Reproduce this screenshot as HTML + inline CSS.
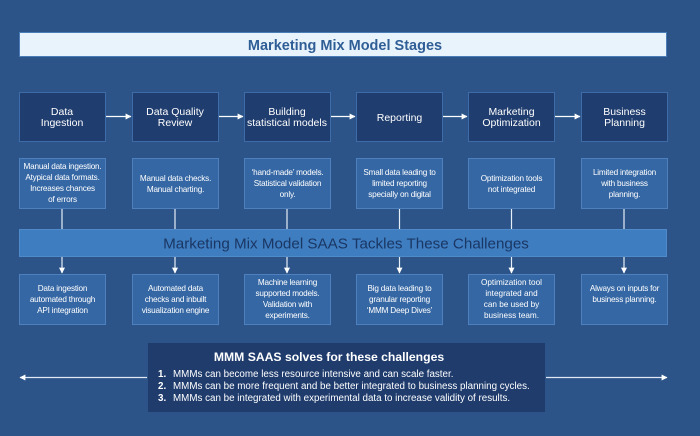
<!DOCTYPE html>
<html><head><meta charset="utf-8"><style>
html,body{margin:0;padding:0;background:#2c5488;}
svg{display:block;}
text{font-family:"Liberation Sans",sans-serif;}
</style></head><body>
<svg width="700" height="436" viewBox="0 0 700 436" xmlns="http://www.w3.org/2000/svg">
<defs>
<marker id="ah" viewBox="0 0 10 10" refX="9" refY="5" markerWidth="5" markerHeight="5" orient="auto"><path d="M0,0 L10,5 L0,10 z" fill="#ffffff"/></marker>
</defs>
<rect width="700" height="436" fill="#2c5488"/>
<!-- title bar -->
<rect x="19.5" y="32.5" width="647" height="24" fill="#e9f3fb" stroke="#4a7cb8" stroke-width="1"/>
<text x="345" y="50" text-anchor="middle" font-size="14.5" font-weight="bold" fill="#2f5e96">Marketing Mix Model Stages</text>

<!-- stage boxes -->
<g fill="#1f3d6e" stroke="#3d6ca8" stroke-width="1">
<rect x="19.5" y="92.5" width="86" height="49"/>
<rect x="132.5" y="92.5" width="86" height="49"/>
<rect x="244.5" y="92.5" width="86" height="49"/>
<rect x="356.5" y="92.5" width="86" height="49"/>
<rect x="468.5" y="92.5" width="86" height="49"/>
<rect x="581.5" y="92.5" width="86" height="49"/>
</g>
<g font-size="10.5" fill="#ffffff" text-anchor="middle">
<text x="62" y="115">Data</text><text x="62" y="126">Ingestion</text>
<text x="175" y="115">Data Quality</text><text x="175" y="126">Review</text>
<text x="287" y="115">Building</text><text x="287" y="126">statistical  models</text>
<text x="399.5" y="121">Reporting</text>
<text x="511.5" y="115">Marketing</text><text x="511.5" y="126">Optimization</text>
<text x="624.5" y="115">Business</text><text x="624.5" y="126">Planning</text>
</g>
<!-- horizontal arrows between stages -->
<g stroke="#ffffff" stroke-width="1.2" marker-end="url(#ah)">
<line x1="106" y1="116.5" x2="131" y2="116.5"/>
<line x1="219" y1="116.5" x2="243" y2="116.5"/>
<line x1="331" y1="116.5" x2="355" y2="116.5"/>
<line x1="443" y1="116.5" x2="467" y2="116.5"/>
<line x1="555" y1="116.5" x2="580" y2="116.5"/>
</g>

<!-- challenge boxes -->
<g fill="#3567a4" stroke="#4d80bd" stroke-width="1">
<rect x="19.5" y="158.5" width="86" height="50"/>
<rect x="132.5" y="158.5" width="86" height="50"/>
<rect x="244.5" y="158.5" width="86" height="50"/>
<rect x="356.5" y="158.5" width="86" height="50"/>
<rect x="468.5" y="158.5" width="86" height="50"/>
<rect x="581.5" y="158.5" width="86" height="50"/>
</g>
<g font-size="8.2" fill="#ffffff" text-anchor="middle" letter-spacing="-0.2">
<text x="62.5" y="169">Manual data ingestion.</text>
<text x="62.5" y="180">Atypical data formats.</text>
<text x="62.5" y="191">Increases chances</text>
<text x="62.5" y="202">of errors</text>
<text x="175.5" y="181">Manual data checks.</text>
<text x="175.5" y="192">Manual charting.</text>
<text x="287.5" y="175">‘hand-made’ models.</text>
<text x="287.5" y="186">Statistical validation</text>
<text x="287.5" y="197">only.</text>
<text x="399.5" y="175">Small data leading to</text>
<text x="399.5" y="186">limited reporting</text>
<text x="399.5" y="197">specially on digital</text>
<text x="511.5" y="181">Optimization tools</text>
<text x="511.5" y="192">not integrated</text>
<text x="624.5" y="175">Limited integration</text>
<text x="624.5" y="186">with business</text>
<text x="624.5" y="197">planning.</text>
</g>
<!-- vertical lines challenge -> banner -->
<g stroke="#e6eef8" stroke-width="1.2">
<line x1="62" y1="209" x2="62" y2="229"/>
<line x1="175" y1="209" x2="175" y2="229"/>
<line x1="287" y1="209" x2="287" y2="229"/>
<line x1="399.5" y1="209" x2="399.5" y2="229"/>
<line x1="511.5" y1="209" x2="511.5" y2="229"/>
<line x1="624" y1="209" x2="624" y2="229"/>
</g>

<!-- banner -->
<rect x="19" y="229" width="648" height="28" fill="#3f7dc1"/>
<rect x="19.5" y="229.5" width="647" height="27" fill="none" stroke="#4f8acb" stroke-width="1"/>
<text x="346" y="248.5" text-anchor="middle" font-size="15.2" fill="#1a3764">Marketing Mix Model SAAS Tackles These Challenges</text>

<!-- arrows banner -> solutions -->
<g stroke="#e6eef8" stroke-width="1.2" marker-end="url(#ah)">
<line x1="62" y1="257" x2="62" y2="273"/>
<line x1="175" y1="257" x2="175" y2="273"/>
<line x1="287" y1="257" x2="287" y2="273"/>
<line x1="399.5" y1="257" x2="399.5" y2="273"/>
<line x1="511.5" y1="257" x2="511.5" y2="273"/>
<line x1="624" y1="257" x2="624" y2="273"/>
</g>

<!-- solution boxes -->
<g fill="#3567a4" stroke="#4d80bd" stroke-width="1">
<rect x="19.5" y="274.5" width="86" height="50"/>
<rect x="132.5" y="274.5" width="86" height="50"/>
<rect x="244.5" y="274.5" width="86" height="50"/>
<rect x="356.5" y="274.5" width="86" height="50"/>
<rect x="468.5" y="274.5" width="86" height="50"/>
<rect x="581.5" y="274.5" width="86" height="50"/>
</g>
<g font-size="8.2" fill="#ffffff" text-anchor="middle" letter-spacing="-0.2">
<text x="62.5" y="291">Data ingestion</text>
<text x="62.5" y="302">automated through</text>
<text x="62.5" y="313">API integration</text>
<text x="175.5" y="291">Automated data</text>
<text x="175.5" y="302">checks and inbuilt</text>
<text x="175.5" y="313">visualization engine</text>
<text x="287.5" y="285">Machine learning</text>
<text x="287.5" y="296">supported models.</text>
<text x="287.5" y="307">Validation with</text>
<text x="287.5" y="318">experiments.</text>
<text x="399.5" y="291">Big data leading to</text>
<text x="399.5" y="302">granular reporting</text>
<text x="399.5" y="313">‘MMM Deep Dives’</text>
</g>
<g font-size="8.2" fill="#ffffff" text-anchor="middle">
<text x="511.5" y="285">Optimization tool</text>
<text x="511.5" y="296">integrated and</text>
<text x="511.5" y="307">can be used by</text>
<text x="511.5" y="318">business team.</text>
</g>
<g font-size="8.2" fill="#ffffff" text-anchor="middle" letter-spacing="-0.2">
<text x="624.5" y="291">Always on inputs for</text>
<text x="624.5" y="302">business planning.</text>
</g>

<!-- bottom box -->
<rect x="148" y="343" width="397" height="69" fill="#1f3c6d"/>
<text x="329" y="361" text-anchor="middle" font-size="12.2" font-weight="bold" fill="#ffffff">MMM SAAS solves for these challenges</text>
<g font-size="9.8" fill="#ffffff">
<text x="158" y="377"><tspan font-weight="bold">1.</tspan><tspan x="173">MMMs can become less resource intensive and can scale faster.</tspan></text>
<text x="158" y="389"><tspan font-weight="bold">2.</tspan><tspan x="173">MMMs can be more frequent and be better integrated to business planning cycles.</tspan></text>
<text x="158" y="401"><tspan font-weight="bold">3.</tspan><tspan x="173">MMMs can be integrated with experimental data to increase validity of results.</tspan></text>
</g>
<!-- side arrows -->
<g stroke="#dfe8f4" stroke-width="1.2" marker-end="url(#ah)">
<line x1="147" y1="377.5" x2="20" y2="377.5"/>
<line x1="546" y1="377.5" x2="667" y2="377.5"/>
</g>
</svg>
</body></html>
